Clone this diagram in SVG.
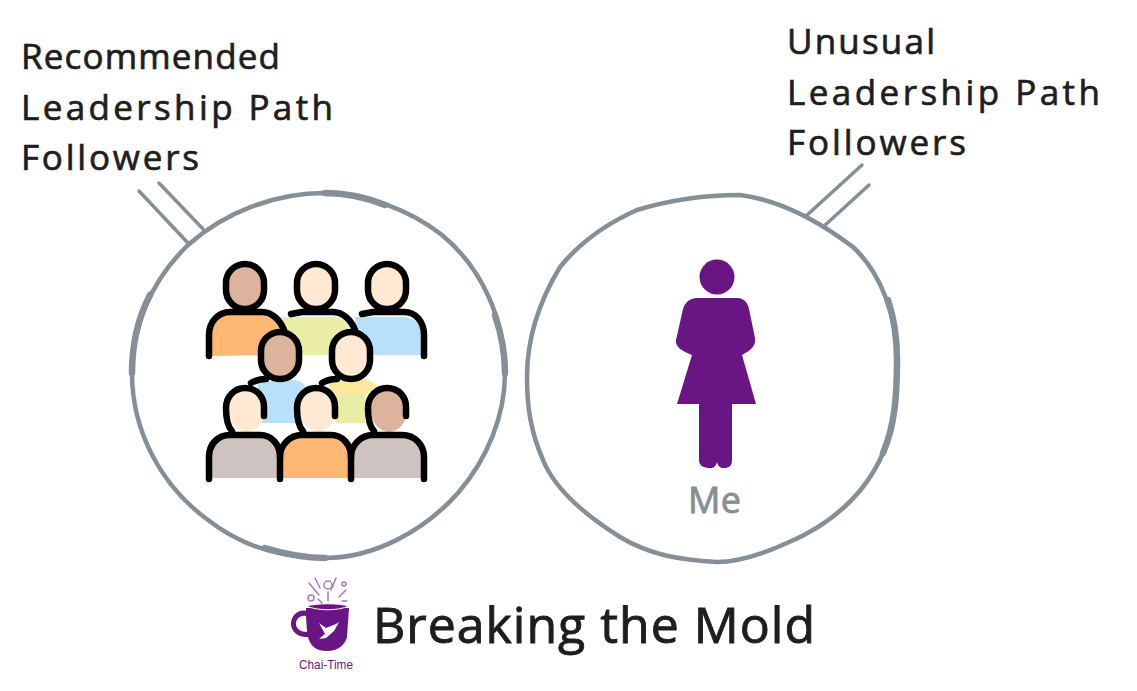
<svg xmlns="http://www.w3.org/2000/svg" width="1137" height="691" viewBox="0 0 1137 691">
<style>
.t{font-family:"Open Sans","Liberation Sans",sans-serif;fill:#1e1e1e;stroke:#1e1e1e;stroke-width:.7;font-size:35px}
.ring{fill:none;stroke:#868e96;stroke-width:4.500;stroke-linecap:round;stroke-linejoin:round}
.thick{fill:none;stroke:#868e96;stroke-width:6.500;stroke-linecap:round}
.line{fill:none;stroke:#868e96;stroke-width:3.500;stroke-linecap:round}
.ol{fill:none;stroke:#000;stroke-width:6.500;stroke-linecap:round;stroke-linejoin:round}
.skin1{fill:#ffe9d3}.skin2{fill:#dcb39c}
.sg{fill:#cfc3c2}.so{fill:#ffb874}.sb{fill:#b8e0fd}.sy{fill:#e9eda5}
.pu{fill:#6a1584}
</style>
<rect width="1137" height="691" fill="#fff"/>
<g id="connectors">
<path class="line" d="M139 191L188 243"/>
<path class="line" d="M159 183L203 229"/>
<path class="line" d="M862 165L806 216"/>
<path class="line" d="M869 185L823 227"/>
</g>
<g id="node-followers">
<path class="ring" d="M325 193C365 193 410 210 442 235C482 268 505 320 505 373C505 415 488 458 458 493C425 530 375 558 325 558C280 558 240 545 208 520C160 485 132 430 132 373C132 325 152 280 188 245C225 212 275 193 325 193Z"/>
<path class="thick" d="M325 193C345 193 365 197 385 205M132 373C132 345 138 318 150 295M505 373C505 350 500 330 495 315M325 558C305 558 285 554 265 548"/>
<g id="people">
<path class="so" d="M209 356V335C209 322 218 312 230 312H262C272 312 280 320 284 330V355Z"/>
<path class="sy" d="M283 317H335C343 318 347 323 349 330V355H283Z"/>
<path class="sb" d="M355 317H404C416 318 421 326 421 335V355H355Z"/>
<rect class="skin2" x="228" y="267" width="34" height="41" rx="17"/>
<rect class="skin1" x="299" y="267" width="34" height="41" rx="17"/>
<rect class="skin1" x="370" y="267" width="34" height="41" rx="17"/>
<rect class="ol" x="226" y="264" width="38" height="45" rx="19"/>
<rect class="ol" x="297" y="264" width="38" height="45" rx="19"/>
<rect class="ol" x="368" y="264" width="38" height="45" rx="19"/>
<path class="ol" d="M209 356V335C209 322 218 312 230 312H262C272 312 280 320 284 330"/>
<path class="ol" d="M291 314L302 312H333C343 312 351 320 355 330"/>
<path class="ol" d="M362 314L373 312H404C416 312 424 322 424 335V356"/>
<rect class="skin2" x="263" y="335" width="34" height="42" rx="17"/>
<rect class="skin1" x="334" y="335" width="34" height="42" rx="17"/>
<path class="sb" d="M258 383C270 381 285 379 295 380C303 381 308 388 308 395V423H258Z"/>
<path class="sy" d="M330 383H365V423H336V395Z"/>
<path d="M329 383C340 380 360 379 366 380C373 381 379 386 380 392C365 395 345 393 330 394Z" fill="#fbea9d"/>
<rect class="ol" x="261" y="332" width="38" height="47" rx="19"/>
<rect class="ol" x="332" y="332" width="38" height="47" rx="19"/>
<path class="ol" d="M251 383C256 380 260 379 266 379M322 383C327 380 331 379 337 379"/>
<ellipse class="skin1" cx="247" cy="410" rx="18" ry="22"/>
<ellipse class="skin1" cx="318" cy="410" rx="18" ry="22"/>
<ellipse class="skin2" cx="389" cy="410" rx="18" ry="22"/>
<path class="ol" d="M232 431C227 426 226 418 226 408C226 396 235 388 245 388C257 388 264 397 264 407V416"/>
<path class="ol" d="M303 431C298 426 297 418 297 408C297 396 306 388 316 388C328 388 335 397 335 407V416"/>
<path class="ol" d="M374 431C369 426 368 418 368 408C368 396 377 388 387 388C399 388 406 397 406 407V416"/>
<path class="sg" d="M209 478V457C209 444 218 435 230 435H260C272 435 280 445 280 457V478Z"/>
<path class="so" d="M280 478V457C280 445 290 435 302 435H331C343 435 351 445 351 457V478Z"/>
<path class="sg" d="M351 478V457C351 445 361 435 373 435H402C415 435 424 445 424 457V478Z"/>
<path class="ol" d="M209 479V457C209 444 218 435 230 435H260C272 435 280 445 280 457V479"/>
<path class="ol" d="M280 457C280 445 290 435 302 435H331C343 435 351 445 351 457V479"/>
<path class="ol" d="M351 457C351 445 361 435 373 435H402C415 435 424 445 424 457V479"/>
</g>
<text class="t" x="21" y="69" textLength="259" lengthAdjust="spacing">Recommended</text>
<text class="t" x="21" y="120" textLength="312" lengthAdjust="spacing">Leadership Path</text>
<text class="t" x="21" y="170" textLength="178" lengthAdjust="spacing">Followers</text>
</g>
<g id="node-me">
<path class="ring" d="M740 195C780 200 820 222 853 247C880 272 897 315 897 360C897 395 895 425 883 453C865 495 830 525 787 543C765 553 740 562 717 562C680 560 650 555 620 537C585 515 555 490 543 460C530 430 527 405 527 377C527 335 540 300 560 267C582 240 610 222 637 210C670 200 705 195 740 195Z"/>
<path class="thick" d="M888 300C894 318 897 340 897 360C897 395 895 425 883 453"/>
<circle class="pu" cx="717" cy="277" r="17.500"/>
<path class="pu" d="M697 298H737C745 298 748 304 749 309L755 338C756 345 752 350 742 355L756 404H732V460C732 466 729 468 724 468C720 468 718 466 717 462C716 466 714 468 710 468C704 468 699 466 699 460V404H677L692 355C682 351 675 347 676 340L683 309C685 303 689 298 697 298Z"/>
<text x="688" y="513" textLength="53" lengthAdjust="spacing" style="font-family:'Open Sans','Liberation Sans',sans-serif;font-size:36px;fill:#868e96;stroke:#868e96;stroke-width:.8">Me</text>
<text class="t" x="787" y="54" textLength="148" lengthAdjust="spacing">Unusual</text>
<text class="t" x="787" y="105" textLength="313" lengthAdjust="spacing">Leadership Path</text>
<text class="t" x="787" y="155" textLength="179" lengthAdjust="spacing">Followers</text>
</g>
<g id="node-title">
<path class="pu" d="M306 608L349 608L347 637C345 645 338 651 327 651C315 651 310 645 308 637C298 638 291 631 291 624C291 615 299 609 306 611ZM306 616C300 615 296 619 296 624C296 629 301 632 307 632Z"/>
<path d="M306 606C318 603 338 603 349 606C338 611 318 611 306 606Z" fill="#6a1584" stroke="#fff" stroke-width="1"/>
<path d="M319 623L326 628L336 624L339 622L334 631L326 638L319 639L325 634Z" fill="#fff"/>
<g fill="none" stroke="#a37cc0" stroke-width="1.500" stroke-linecap="round">
<circle cx="328" cy="585" r="4"/><circle cx="311" cy="598" r="3"/><circle cx="344" cy="584" r="2"/>
<path d="M309 583L319 595M336 578L331 590M346 590L339 597M315 578L320 588M328 592V601M342 601H347M318 599L322 603"/>
</g>
<text x="299" y="669" textLength="54" lengthAdjust="spacingAndGlyphs" style="font-family:'Liberation Sans',sans-serif;font-size:13px;fill:#6a1584">Chai-Time</text>
<text x="373" y="643" textLength="442" lengthAdjust="spacing" style="font-family:'Open Sans','Liberation Sans',sans-serif;font-size:50px;fill:#1e1e1e;stroke:#1e1e1e;stroke-width:.9">Breaking the Mold</text>
</g>
</svg>
